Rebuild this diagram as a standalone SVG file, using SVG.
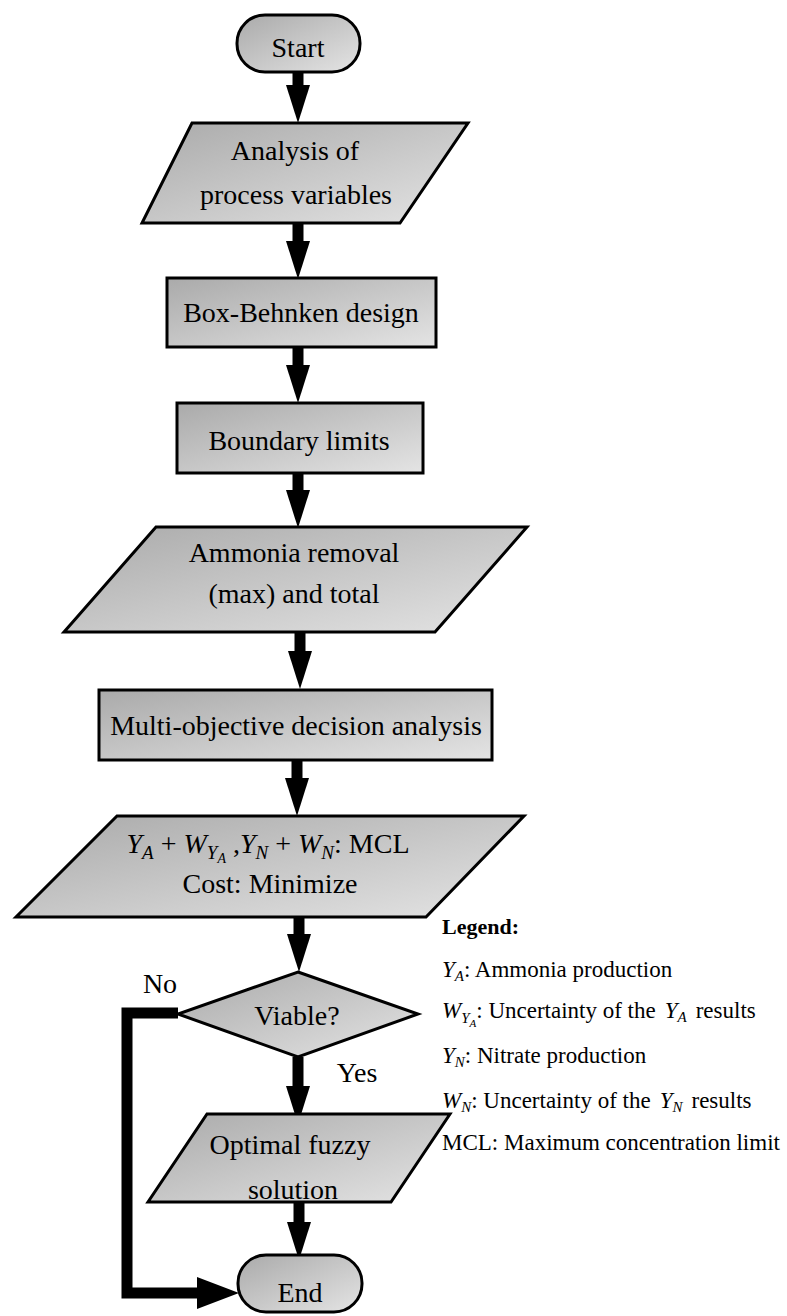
<svg xmlns="http://www.w3.org/2000/svg" width="787" height="1316" viewBox="0 0 787 1316">
<defs>
<linearGradient id="g" x1="0" y1="0" x2="1" y2="1">
<stop offset="0" stop-color="#aaaaaa"/>
<stop offset="1" stop-color="#e4e4e4"/>
</linearGradient>
<marker id="ah" markerUnits="userSpaceOnUse" viewBox="0 -13 40 26" refX="0" refY="0" markerWidth="40" markerHeight="26" orient="auto">
<path d="M0,-12 L38,0 L0,12 z" fill="#000"/>
</marker>
<marker id="ahL" markerUnits="userSpaceOnUse" viewBox="0 -17 44 34" refX="0" refY="0" markerWidth="44" markerHeight="34" orient="auto">
<path d="M0,-16 L42,0 L0,16 z" fill="#000"/>
</marker>
</defs>
<style>
.shape{fill:url(#g);stroke:#000;stroke-width:3;stroke-linejoin:miter}
.t{font-family:"Liberation Serif",serif;font-size:28px;fill:#000;text-anchor:middle}
.lg{font-family:"Liberation Serif",serif;font-size:23px;fill:#000}
.b{font-weight:bold;font-size:22px}
.i{font-style:italic}
.s1{font-style:italic;font-size:19px}
.s2{font-style:italic;font-size:14px}
.l1{font-style:italic;font-size:15px}
.l2{font-style:italic;font-size:11px}
.conn{stroke:#000;stroke-width:11;fill:none}
</style>
<rect width="787" height="1316" fill="#fff"/>

<g id="connectors">
<line class="conn" x1="298" y1="72" x2="298" y2="85" marker-end="url(#ah)"/>
<line class="conn" x1="298" y1="223" x2="298" y2="241" marker-end="url(#ah)"/>
<line class="conn" x1="298" y1="347" x2="298" y2="365" marker-end="url(#ah)"/>
<line class="conn" x1="298" y1="473" x2="298" y2="490" marker-end="url(#ah)"/>
<line class="conn" x1="300" y1="632" x2="300" y2="651" marker-end="url(#ah)"/>
<line class="conn" x1="297" y1="760" x2="297" y2="778" marker-end="url(#ah)"/>
<line class="conn" x1="299" y1="917" x2="299" y2="934" marker-end="url(#ah)"/>
<line class="conn" x1="298" y1="1057" x2="298" y2="1086" marker-end="url(#ah)"/>
<line class="conn" x1="299" y1="1202" x2="299" y2="1222" marker-end="url(#ah)"/>
<path class="conn" d="M178,1013 H127 V1293 H197" marker-end="url(#ahL)"/>
</g>

<g id="start">
<rect class="shape" x="237" y="15" width="123" height="57" rx="28" ry="28"/>
<text class="t" x="298" y="57">Start</text>
</g>

<g id="analysis">
<polygon class="shape" points="192,123 468,123 400,223 142,223"/>
<text class="t" x="295" y="160">Analysis of</text>
<text class="t" x="296" y="204">process variables</text>
</g>

<g id="box-behnken">
<rect class="shape" x="167" y="278" width="269" height="69"/>
<text class="t" x="301" y="322">Box-Behnken design</text>
</g>

<g id="boundary">
<rect class="shape" x="177" y="403" width="246" height="70"/>
<text class="t" x="299" y="450">Boundary limits</text>
</g>

<g id="ammonia">
<polygon class="shape" points="156,527 527,527 435,632 64,632"/>
<text class="t" x="294" y="562">Ammonia removal</text>
<text class="t" x="294" y="603">(max) and total</text>
</g>

<g id="multi">
<rect class="shape" x="99" y="690" width="393" height="70"/>
<text class="t" x="296" y="735">Multi-objective decision analysis</text>
</g>

<g id="constraints">
<polygon class="shape" points="117,816 524,816 426,917 16,917"/>
<text class="t" x="268" y="853"><tspan class="i">Y</tspan><tspan class="s1" dy="6">A</tspan><tspan dy="-6"> + </tspan><tspan class="i">W</tspan><tspan class="s1" dy="6">Y</tspan><tspan class="s2" dy="4">A</tspan><tspan dy="-10"> ,</tspan><tspan class="i">Y</tspan><tspan class="s1" dy="6">N</tspan><tspan dy="-6"> + </tspan><tspan class="i">W</tspan><tspan class="s1" dy="6">N</tspan><tspan dy="-6">: MCL</tspan></text>
<text class="t" x="270" y="893">Cost: Minimize</text>
</g>

<g id="viable">
<polygon class="shape" points="298,972 418,1014 298,1057 178,1014"/>
<text class="t" x="297" y="1025">Viable?</text>
</g>

<g id="labels">
<text class="t" x="160" y="993">No</text>
<text class="t" x="357" y="1082">Yes</text>
</g>

<g id="optimal">
<polygon class="shape" points="207,1114 450,1114 391,1202 148,1202"/>
<text class="t" x="290" y="1154">Optimal fuzzy</text>
<text class="t" x="293" y="1199">solution</text>
</g>

<g id="end">
<rect class="shape" x="238" y="1255" width="124" height="57" rx="28" ry="28"/>
<text class="t" x="300" y="1302">End</text>
</g>

<g id="legend">
<text class="lg b" x="442" y="934">Legend:</text>
<text class="lg" x="442" y="977"><tspan class="i">Y</tspan><tspan class="l1" dy="4">A</tspan><tspan dy="-4">: Ammonia production</tspan></text>
<text class="lg" x="442" y="1018"><tspan class="i">W</tspan><tspan class="l1" dy="5">Y</tspan><tspan class="l2" dy="4">A</tspan><tspan dy="-9">: Uncertainty of the</tspan><tspan class="i" dx="9">Y</tspan><tspan class="l1" dy="4">A</tspan><tspan dy="-4" dx="9">results</tspan></text>
<text class="lg" x="442" y="1063"><tspan class="i">Y</tspan><tspan class="l1" dy="4">N</tspan><tspan dy="-4">: Nitrate production</tspan></text>
<text class="lg" x="442" y="1108"><tspan class="i">W</tspan><tspan class="l1" dy="4">N</tspan><tspan dy="-4">: Uncertainty of the</tspan><tspan class="i" dx="9">Y</tspan><tspan class="l1" dy="4">N</tspan><tspan dy="-4" dx="9">results</tspan></text>
<text class="lg" x="442" y="1150">MCL: Maximum concentration limit</text>
</g>
</svg>
